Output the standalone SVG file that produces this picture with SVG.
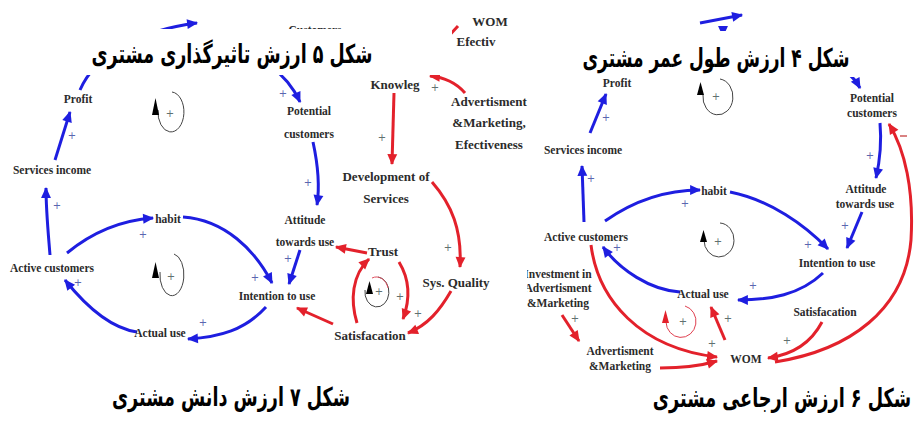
<svg xmlns="http://www.w3.org/2000/svg" width="918" height="427" viewBox="0 0 918 427">
<style>
.t{font-family:"Liberation Serif","Times New Roman",serif;font-weight:bold;font-size:11.5px;fill:#2b2b2b;text-anchor:middle}
.tl{font-family:"Liberation Serif","Times New Roman",serif;font-weight:bold;font-size:13px;fill:#2b2b2b;text-anchor:middle}
.p{font-family:"DejaVu Sans",sans-serif;font-size:10px;fill:#5a66b0;text-anchor:middle}
.pr{font-family:"DejaVu Sans",sans-serif;font-size:10px;fill:#607070;text-anchor:middle}
.cap{font-family:"DejaVu Sans",sans-serif;font-weight:bold;font-size:26px;fill:#000;text-anchor:middle}
.b{fill:none;stroke:#1e1ee0;stroke-width:3;marker-end:url(#ab)}
.r{fill:none;stroke:#e3212b;stroke-width:3;marker-end:url(#ar)}
.loop{fill:none;stroke:#444;stroke-width:1}
</style>
<defs>
<marker id="ab" viewBox="0 0 10 10" refX="9" refY="5" markerWidth="15" markerHeight="11" markerUnits="userSpaceOnUse" orient="auto"><path d="M0,0.5 L10,5 L0,9.5 z" fill="#1e1ee0"/></marker>
<marker id="ar" viewBox="0 0 10 10" refX="9" refY="5" markerWidth="15" markerHeight="11" markerUnits="userSpaceOnUse" orient="auto"><path d="M0,0.5 L10,5 L0,9.5 z" fill="#e3212b"/></marker>
<clipPath id="rp"><rect x="527" y="0" width="391" height="427"/></clipPath>
</defs>
<rect width="918" height="427" fill="#fff"/>

<g id="connectors">
<!-- left panel blue -->
<path class="b" d="M80,90 C95,55 140,30 197,23"/>
<path class="b" d="M270,66 Q290,80 300,102"/>
<path class="b" d="M55,160 L70,112"/>
<path class="b" d="M50,255 C48,230 46,210 46,188"/>
<path class="b" d="M67,253 C95,230 125,220 153,218"/>
<path class="b" d="M183,217 C225,220 255,250 272,283"/>
<path class="b" d="M266,307 C245,330 220,337 188,339"/>
<path class="b" d="M137,332 C110,328 85,305 65,280"/>
<path class="b" d="M313,142 C318,165 320,185 317,205"/>
<path class="b" d="M300,250 L289,284"/>
<!-- left panel red -->
<path class="r" d="M458,26 Q440,45 420,70"/>
<path class="r" d="M465,93 Q452,78 430,76"/>
<path class="r" d="M394,93 L392,164"/>
<path class="r" d="M432,182 C452,205 462,230 460,267"/>
<path class="r" d="M451,291 C440,310 428,325 408,333"/>
<path class="r" d="M333,324 L297,308"/>
<path class="r" d="M357,323 C350,300 352,275 369,259"/>
<path class="r" d="M399,262 C410,280 410,300 403,319"/>
<path class="r" d="M367,253 L336,247"/>
<!-- right panel blue -->
<path class="b" d="M700,23 L742,15"/>
<path class="b" d="M723,26 L723,36"/>
<path class="b" d="M830,62 Q850,70 860,88"/>
<path class="b" d="M590,133 L606,94"/>
<path class="b" d="M584,222 L582,166"/>
<path class="b" d="M605,221 C635,200 665,190 700,190"/>
<path class="b" d="M730,192 C770,200 805,225 828,249"/>
<path class="b" d="M880,123 C882,145 880,160 876,178"/>
<path class="b" d="M862,212 L847,248"/>
<path class="b" d="M823,273 C800,295 770,300 738,300"/>
<path class="b" d="M680,292 C650,290 620,270 603,247"/>
<!-- right panel red -->
<path class="r" d="M591,245 C598,300 640,348 717,357"/>
<path class="r" d="M562,315 L579,341"/>
<path class="r" d="M660,368 C680,368 700,366 717,361"/>
<path class="r" d="M725,340 L711,307"/>
<path class="r" d="M822,322 C810,345 790,355 768,358"/>
<path class="r" d="M775,362 C850,350 905,310 911,240 C914,190 905,150 889,124"/>
<path d="M900,136 L907,136" stroke="#c03030" stroke-width="1.2"/>
</g>

<g id="loops">
<path class="loop" d="M172,92 A13,20 0 1 1 158,110"/>
<polygon points="152,115 159,115 155.5,98" fill="#000"/>
<path class="loop" d="M174,254 A12,21 0 1 1 160,272"/>
<polygon points="152,278 159,278 155.5,262" fill="#000"/>
<path class="loop" d="M378,277 A12,15 0 1 1 365,290"/>
<path d="M372,278 A12,15 0 0 1 388,288" fill="none" stroke="#e05060" stroke-width="1"/>
<polygon points="366,294 373,294 369.5,281" fill="#000"/>
<path class="loop" d="M720,79 A15,18 0 1 1 703,95"/>
<polygon points="697,95 704,95 700.5,82" fill="#000"/>
<path class="loop" d="M720,223 A15,17 0 1 1 704,240"/>
<polygon points="700,242 707,242 703.5,230" fill="#000"/>
<path d="M685,306 A15,16 0 1 1 666,322" fill="none" stroke="#e04050" stroke-width="1"/>
<polygon points="662,323 669,323 665.5,310" fill="#e3212b"/>
</g>

<g id="signs">
<text class="p" x="283" y="97">+</text>
<text class="p" x="72" y="139">+</text>
<text class="p" x="57" y="209">+</text>
<text class="p" x="143" y="238">+</text>
<text class="p" x="255" y="281">+</text>
<text class="p" x="203" y="326">+</text>
<text class="p" x="78" y="286">+</text>
<text class="p" x="308" y="186">+</text>
<text class="p" x="288" y="262">+</text>
<text class="pr" x="170" y="117">+</text>
<text class="pr" x="171" y="280">+</text>
<text class="pr" x="379" y="295">+</text>
<text class="pr" x="382" y="141">+</text>
<text class="pr" x="435" y="91">+</text>
<text class="pr" x="448" y="251">+</text>
<text class="pr" x="418" y="317">+</text>
<text class="pr" x="400" y="300">+</text>
<text class="p" x="606" y="121">+</text>
<text class="p" x="591" y="182">+</text>
<text class="p" x="685" y="207">+</text>
<text class="p" x="808" y="248">+</text>
<text class="p" x="617" y="251">+</text>
<text class="p" x="870" y="159">+</text>
<text class="p" x="845" y="229">+</text>
<text class="p" x="753" y="289">+</text>
<text class="pr" x="716" y="100">+</text>
<text class="pr" x="718" y="245">+</text>
<text class="pr" x="683" y="325">+</text>
<text class="pr" x="728" y="322">+</text>
<text class="pr" x="712" y="347">+</text>
<text class="pr" x="787" y="344">+</text>
<text class="pr" x="575" y="322">+</text>
</g>

<!-- left panel nodes -->
<g id="n-customers"><text class="t" x="315" y="34">Customers</text></g>
<g id="n-profit-l"><text class="t" x="78" y="103">Profit</text></g>
<g id="n-services-l"><text class="t" x="52" y="174">Services income</text></g>
<g id="n-active-l"><text class="t" x="52" y="272">Active customers</text></g>
<g id="n-habit-l"><text class="t" x="168" y="223">habit</text></g>
<g id="n-intention-l"><text class="t" x="277" y="300">Intention to use</text></g>
<g id="n-actual-l"><text class="t" x="160" y="337">Actual use</text></g>
<g id="n-potential-l"><text class="t" x="309" y="115">Potential</text><text class="t" x="309" y="138">customers</text></g>
<g id="n-attitude-l"><text class="t" x="305" y="224">Attitude</text><text class="t" x="305" y="246">towards use</text></g>
<g id="n-wom-l"><text class="tl" x="490" y="26">WOM</text><text class="tl" x="476" y="46">Efectiv</text></g>
<g id="n-knowleg"><text class="tl" x="395" y="89">Knowleg</text></g>
<g id="n-adv-l"><text class="tl" x="489" y="106">Advertisment</text><text class="tl" x="489" y="127">&amp;Marketing,</text><text class="tl" x="489" y="149">Efectiveness</text></g>
<g id="n-dev"><text class="tl" x="386" y="181">Development of</text><text class="tl" x="386" y="203">Services</text></g>
<g id="n-sysq"><text class="tl" x="456" y="287">Sys. Quality</text></g>
<g id="n-trust"><text class="tl" x="383" y="256">Trust</text></g>
<g id="n-satis-l"><text class="tl" x="370" y="340">Satisfacation</text></g>

<!-- right panel nodes -->
<g id="n-invtop-r"><text class="t" x="835" y="37" style="font-size:9px">&amp;Investment</text></g>
<g id="n-profit-r"><text class="t" x="617" y="87">Profit</text></g>
<g id="n-potential-r"><text class="t" x="872" y="102">Potential</text><text class="t" x="872" y="117">customers</text></g>
<g id="n-services-r"><text class="t" x="583" y="154">Services income</text></g>
<g id="n-active-r"><text class="t" x="586" y="241">Active customers</text></g>
<g id="n-habit-r"><text class="t" x="714" y="195">habit</text></g>
<g id="n-attitude-r"><text class="t" x="866" y="193">Attitude</text><text class="t" x="865" y="208">towards use</text></g>
<g id="n-intention-r"><text class="t" x="837" y="267">Intention to use</text></g>
<g id="n-actual-r"><text class="t" x="703" y="298">Actual use</text></g>
<g id="n-satis-r"><text class="t" x="825" y="316">Satisfacation</text></g>
<g id="n-wom-r"><text class="t" x="746" y="363">WOM</text></g>
<g id="n-inv-r" clip-path="url(#rp)"><text class="t" x="558" y="278">Investment in</text><text class="t" x="558" y="292">Advertisment</text><text class="t" x="558" y="307">&amp;Marketing</text></g>
<g id="n-adv-r"><text class="t" x="620" y="355">Advertisment</text><text class="t" x="620" y="370">&amp;Marketing</text></g>

<!-- captions -->
<g id="cap5"><rect x="40" y="29" width="412" height="46" fill="#fff"/><text class="cap" x="232" y="63" direction="rtl" textLength="281" lengthAdjust="spacingAndGlyphs">شکل ۵ ارزش تاثیرگذاری مشتری</text></g>
<g id="cap4"><rect x="560" y="31" width="315" height="46" fill="#fff"/><text class="cap" x="716" y="67" direction="rtl" textLength="267" lengthAdjust="spacingAndGlyphs">شکل ۴ ارزش طول عمر مشتری</text></g>
<g id="cap7"><text class="cap" x="231" y="406" direction="rtl" textLength="238" lengthAdjust="spacingAndGlyphs">شکل ۷ ارزش دانش مشتری</text></g>
<g id="cap6" transform="translate(782,407) scale(0.68,1)"><text class="cap" x="0" y="0" direction="rtl">شکل ۶ ارزش ارجاعی مشتری</text></g>
</svg>
